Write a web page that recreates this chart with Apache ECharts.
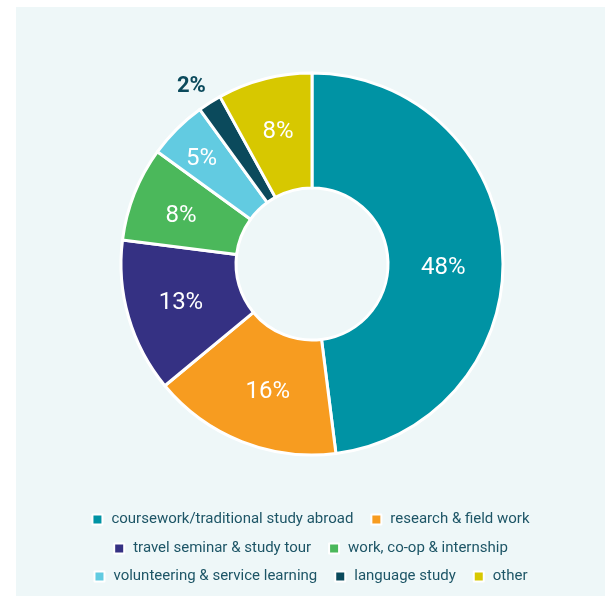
<!DOCTYPE html>
<html>
<head>
<meta charset="utf-8">
<script src="https://cdn.jsdelivr.net/npm/echarts@6/dist/echarts.min.js"></script>
<style>
html,body{margin:0;padding:0;background:#ffffff;}
#bg{position:absolute;left:16px;top:7px;width:589px;height:589px;background:#eef7f8;}
#chart{position:absolute;left:16px;top:0;width:589px;height:596px;}
</style>
</head>
<body>
<div id="bg"></div>
<div id="chart"></div>
<script>
const categories = [
  "coursework/traditional study abroad",
  "research & field work",
  "travel seminar & study tour",
  "work, co-op & internship",
  "volunteering & service learning",
  "language study",
  "other"
];
const values = [48, 16, 13, 8, 5, 2, 8];
const colors = ["#0093a4", "#f79c20", "#353183", "#4bb85b", "#62cbe1", "#0b4a5c", "#d7c800"];
const legendRows = [
  ["coursework/traditional study abroad", "research & field work"],
  ["travel seminar & study tour", "work, co-op & internship"],
  ["volunteering & service learning", "language study", "other"]
];

// layout / styling (not data)
const legendTops = [512, 541, 569];
const labelNudge = [[-5, 13], [6, 1], [0, 1], [-4, 2], [-14, -8], [9, 4], [0, 0]];

const FONT = "Roboto";
const chart = echarts.init(document.getElementById('chart'), null, {renderer: 'canvas'});

const data = categories.map((c, i) => {
  const d = {name: c, value: values[i], itemStyle: {color: colors[i]}};
  if (c === "language study") {
    d.label = {position: 'outside', color: '#0b4a5c', fontWeight: 'bold', fontSize: 22, distanceToLabelLine: 0};
    d.labelLine = {show: false, length: 24, length2: 0};
  }
  return d;
});

chart.setOption({
  backgroundColor: 'transparent',
  animation: false,
  legend: legendRows.map((row, i) => ({
    data: row,
    left: 'center',
    top: legendTops[i],
    icon: 'rect',
    itemWidth: 10,
    itemHeight: 10,
    itemGap: 17,
    padding: 0,
    textStyle: {color: '#1d5566', fontSize: 15, fontFamily: FONT, padding: [0, 0, 0, 4]},
    selectedMode: false
  })),
  series: [{
    type: 'pie',
    center: [296, 264],
    radius: [76, 191],
    startAngle: 90,
    clockwise: true,
    avoidLabelOverlap: false,
    itemStyle: {borderColor: '#ffffff', borderWidth: 3},
    label: {
      show: true,
      position: 'inside',
      formatter: '{c}%',
      color: '#ffffff',
      fontSize: 24,
      fontFamily: FONT
    },
    labelLine: {show: false},
    labelLayout: function (p) {
      const n = labelNudge[p.dataIndex] || [0, 0];
      return {dx: n[0], dy: n[1]};
    },
    emphasis: {disabled: true},
    data: data
  }]
});
</script>
</body>
</html>
